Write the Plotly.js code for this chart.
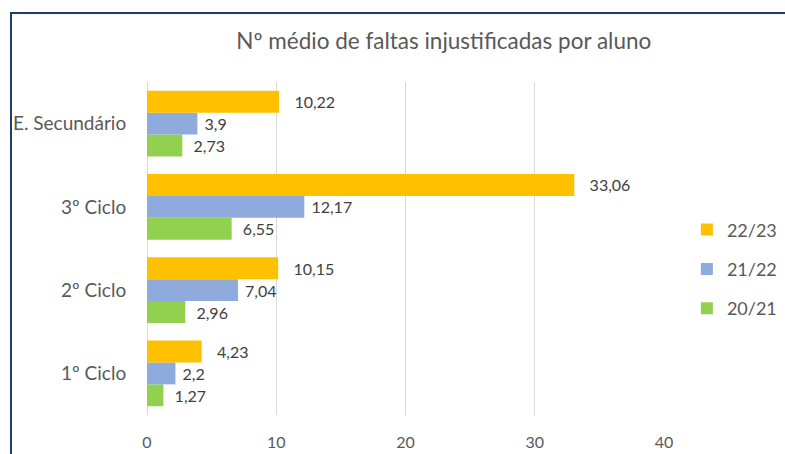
<!DOCTYPE html>
<html>
<head>
<meta charset="utf-8">
<script src="https://cdn.plot.ly/plotly-3.0.1.min.js"></script>
<style>
  html, body { margin: 0; padding: 0; background: #ffffff; }
  #wrap { position: relative; width: 785px; height: 454px; overflow: hidden; }
  #chart { position: absolute; left: 0; top: 0; width: 785px; height: 454px; }
  #frame { position: absolute; left: 10px; top: 12px; width: 800px; height: 480px;
           border-left: 2.5px solid #1F3B70; border-top: 2.5px solid #1F3B70; pointer-events: none; }
</style>
</head>
<body>
<div id="wrap">
  <div id="chart"></div>
  <div id="frame"></div>
</div>
<script>
// Data (categories listed bottom to top)
const categories = ['1º Ciclo', '2º Ciclo', '3º Ciclo', 'E. Secundário'];
const series2021 = [1.27, 2.96, 6.55, 2.73];
const series2122 = [2.2, 7.04, 12.17, 3.9];
const series2223 = [4.23, 10.15, 33.06, 10.22];
const seriesNames = ['20/21', '21/22', '22/23'];
const xTickValues = [0, 10, 20, 30, 40];

const colors = ['#92D050', '#8FAADC', '#FFC000'];
const labelPad = ['\u00a0\u00a0', '\u00a0', '\u00a0\u00a0\u00a0'];
const fmt = v => String(v).replace('.', ',');
const FONT = 'Lato, "Liberation Sans", sans-serif';

const seriesValues = [series2021, series2122, series2223];
const traces = seriesValues.map((vals, i) => ({
  type: 'bar',
  orientation: 'h',
  name: seriesNames[i],
  legendgroup: seriesNames[i],
  legendrank: 3 - i,
  y: categories,
  x: vals,
  text: vals.map(v => labelPad[i] + fmt(v)),
  textposition: 'outside',
  cliponaxis: false,
  textfont: { family: FONT, size: 16, color: '#404040' },
  marker: { color: colors[i], line: { width: 0 } },
  hoverinfo: 'none'
}));

const layout = {
  width: 785,
  height: 454,
  margin: { l: 147, r: 121, t: 82, b: 39, autoexpand: false },
  paper_bgcolor: '#ffffff',
  plot_bgcolor: '#ffffff',
  font: { family: FONT, color: '#595959' },
  title: {
    text: 'Nº médio de faltas injustificadas por aluno',
    font: { family: FONT, size: 22.5, color: '#595959' },
    x: 0.574, xanchor: 'center', xref: 'paper',
    y: 42, yref: 'container', yanchor: 'middle'
  },
  barmode: 'group',
  bargap: 0.21,
  bargroupgap: 0,
  xaxis: {
    range: [0, 40],
    tickvals: xTickValues,
    ticktext: xTickValues.map(String),
    showgrid: true,
    gridcolor: '#D9D9D9',
    gridwidth: 1,
    zeroline: true,
    zerolinecolor: '#D9D9D9',
    zerolinewidth: 1,
    showline: false,
    ticks: 'outside',
    ticklen: 13,
    tickcolor: 'rgba(0,0,0,0)',
    tickfont: { family: FONT, size: 16, color: '#595959' },
    automargin: false,
    fixedrange: true
  },
  yaxis: {
    type: 'category',
    categoryorder: 'array',
    categoryarray: categories,
    showgrid: false,
    showline: false,
    zeroline: false,
    ticks: 'outside',
    ticklen: 16,
    tickcolor: 'rgba(0,0,0,0)',
    tickfont: { family: FONT, size: 19, color: '#595959' },
    automargin: false,
    fixedrange: true
  },
  showlegend: true,
  legend: {
    xref: 'container', yref: 'container',
    x: 0.875, xanchor: 'left',
    y: 0.4067, yanchor: 'middle',
    traceorder: 'grouped',
    tracegroupgap: 13,
    itemwidth: 30,
    font: { family: FONT, size: 18, color: '#595959' },
    bgcolor: 'rgba(0,0,0,0)'
  }
};

Plotly.newPlot('chart', traces, layout, { displayModeBar: false, staticPlot: true });
</script>
</body>
</html>
